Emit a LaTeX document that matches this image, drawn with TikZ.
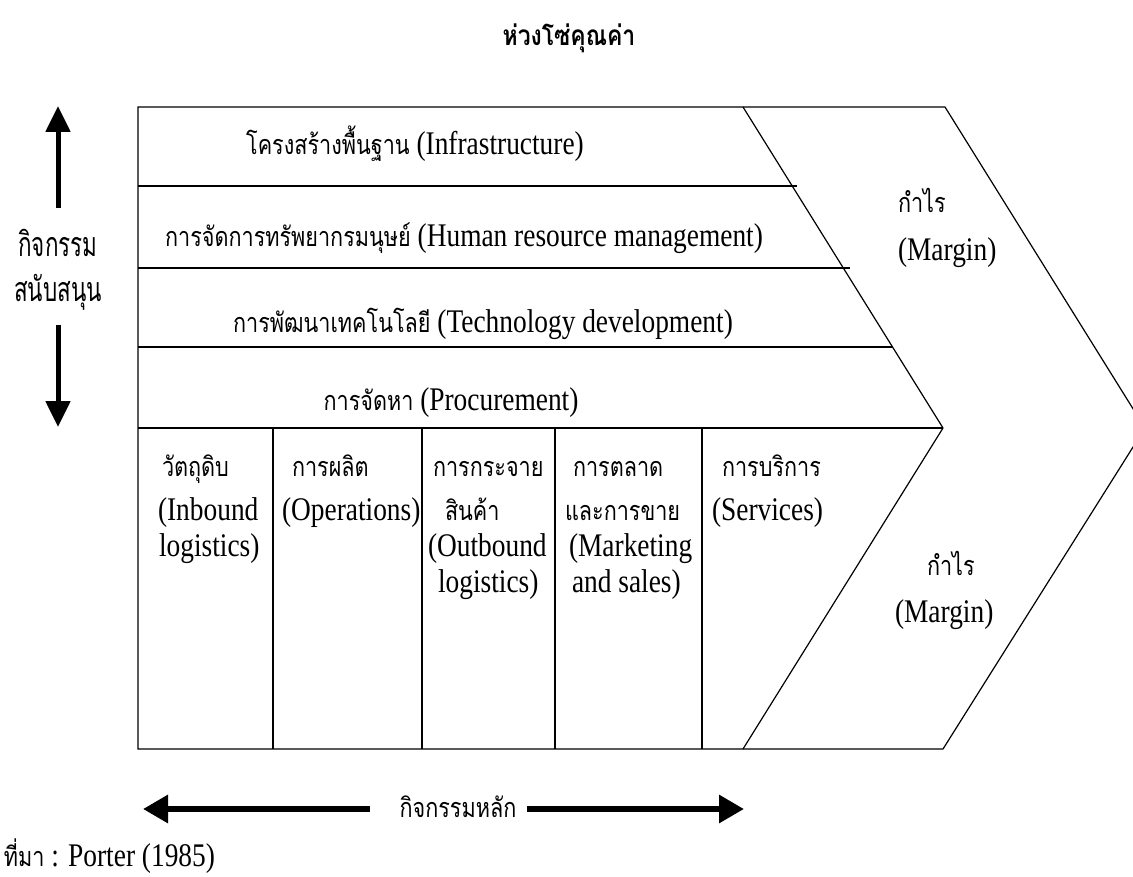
\documentclass[tikz,border=0pt]{standalone}
\usepackage{fontspec}
\setmainfont{Liberation Serif}[FakeStretch=0.83]
\newfontfamily\thf{Loma}[Script=Thai,FakeStretch=0.8]
\newfontfamily\thsans{Loma}[Script=Thai,FakeStretch=0.66]
\newfontfamily\thtitle{Loma}[Script=Thai,FakeStretch=0.82]
\usetikzlibrary{arrows.meta}
\newcommand\T[1]{{\thf\fontsize{27}{30}\selectfont #1}}
\tikzset{
  frame/.style={line width=1.2pt, line join=miter},
  lbl/.style={inner sep=0pt, outer sep=0pt, font=\fontsize{33}{38}\selectfont},
  bigarrow/.style={line width=5pt, -{Triangle[length=26pt,width=24pt]}},
  hbigarrow/.style={line width=6pt, -{Triangle[length=25pt,width=27pt]}},
}
\begin{document}
\begin{tikzpicture}[x=1pt,y=-1pt]
\useasboundingbox (0,0) rectangle (1133,877);
% frame
\begin{scope}
\clip (0,0) rectangle (1133,877);
\draw[frame] (138,107) -- (945,107) -- (1145,428) -- (943,749) -- (138,749) -- cycle;
\end{scope}
\draw[frame] (743,107) -- (943,428) -- (743,749);
\draw[frame] (138,186) -- (797,186);
\draw[frame] (138,268) -- (850,268);
\draw[frame] (138,347) -- (893,347);
\draw[frame] (138,428) -- (943,428);
\foreach \x in {273,422,555,702} \draw[frame] (\x,428) -- (\x,749);

% title
\node[lbl, anchor=base, font=\thtitle\bfseries\fontsize{28}{32}\selectfont] (title) at (569,46) {ห่วงโซ่คุณค่า};

% support activities
\node[lbl, anchor=base] (infra) at (415,155) {\T{โครงสร้างพื้นฐาน} (Infrastructure)};
\node[lbl, anchor=base] (hrm) at (464,247) {\T{การจัดการทรัพยากรมนุษย์} (Human resource management)};
\node[lbl, anchor=base] (tech) at (483,333) {\T{การพัฒนาเทคโนโลยี} (Technology development)};
\node[lbl, anchor=base] (proc) at (451,410) {\T{การจัดหา} (Procurement)};

% primary activities
\node[lbl, anchor=base west] (in1) at (162,476) {\T{วัตถุดิบ}};
\node[lbl, anchor=base west] (in2) at (158,520) {(Inbound};
\node[lbl, anchor=base west] (in3) at (159,556) {logistics)};
\node[lbl, anchor=base west] (op1) at (292,476) {\T{การผลิต}};
\node[lbl, anchor=base west] (op2) at (282,520) {(Operations)};
\node[lbl, anchor=base west] (out1) at (433,476) {\T{การกระจาย}};
\node[lbl, anchor=base west] (out2) at (445,520) {\T{สินค้า}};
\node[lbl, anchor=base west] (out3) at (428,556) {(Outbound};
\node[lbl, anchor=base west] (out4) at (438,592) {logistics)};
\node[lbl, anchor=base west] (mk1) at (573,476) {\T{การตลาด}};
\node[lbl, anchor=base west] (mk2) at (565,520) {\T{และการขาย}};
\node[lbl, anchor=base west] (mk3) at (569,556) {(Marketing};
\node[lbl, anchor=base west] (mk4) at (572,592) {and sales)};
\node[lbl, anchor=base west] (sv1) at (722,476) {\T{การบริการ}};
\node[lbl, anchor=base west] (sv2) at (712,520) {(Services)};

% margin
\node[lbl, anchor=base west] (mgA1) at (898,213) {\T{กำไร}};
\node[lbl, anchor=base west] (mgA2) at (898,261) {(Margin)};
\node[lbl, anchor=base west] (mgB1) at (927,575) {\T{กำไร}};
\node[lbl, anchor=base west] (mgB2) at (895,622) {(Margin)};

% left label and arrows
\node[lbl, anchor=base, font=\thsans\fontsize{34}{40}\selectfont] (sup1) at (58,257) {กิจกรรม};
\node[lbl, anchor=base, font=\thsans\fontsize{34}{40}\selectfont] (sup2) at (58,302) {สนับสนุน};
\coordinate (upS) at (58,208);
\coordinate (upE) at (58,106);
\coordinate (dnS) at (58,325);
\coordinate (dnE) at (58,427);
\draw[bigarrow] (upS) -- (upE);
\draw[bigarrow] (dnS) -- (dnE);

% bottom label and arrows
\node[lbl, anchor=base, font=\thf\fontsize{27}{30}\selectfont] (prim) at (458,817) {กิจกรรมหลัก};
\coordinate (lS) at (370,809);
\coordinate (lE) at (143,809);
\coordinate (rS) at (527,809);
\coordinate (rE) at (744,809);
\draw[hbigarrow] (lS) -- (lE);
\draw[hbigarrow] (rS) -- (rE);

% source
\node[lbl, anchor=base west] (src) at (4,866) {\T{ที่มา} : Porter (1985)};
\end{tikzpicture}
\end{document}
